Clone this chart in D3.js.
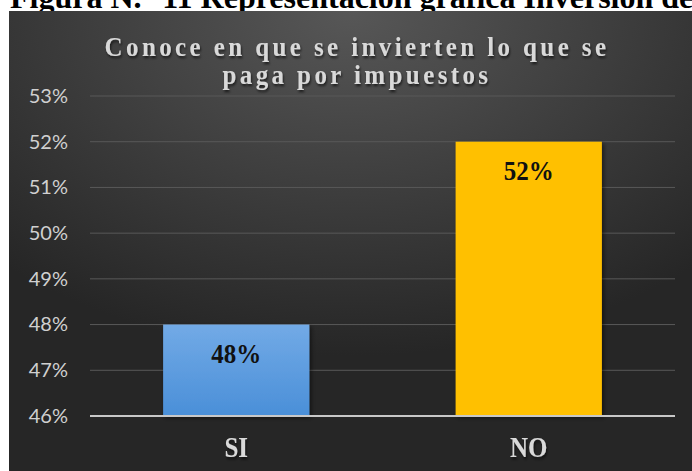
<!DOCTYPE html>
<html>
<head>
<meta charset="utf-8">
<script src="https://cdn.jsdelivr.net/npm/d3@7"></script>
<style>
  html, body { margin: 0; padding: 0; background: #fff; }
  svg { display: block; }
</style>
</head>
<body>
<div id="wrapper"></div>
<script>
// data
const categories = ["SI", "NO"]
const values = [0.48, 0.52]
const barColors = ["url(#blueGrad)", "#ffc000"]
const yTicks = [0.46, 0.47, 0.48, 0.49, 0.50, 0.51, 0.52, 0.53]
const titleLines = ["Conoce en que se invierten lo que se", "paga por impuestos"]
const pageHeading = "Figura N.° 11 Representación gráfica Inversión de"

const width = 692
const height = 471
const serif = "Liberation Serif, Times New Roman, serif"

// chart box sits under the cut-off heading
const box = { x: 9, y: 11 }
const plot = { left: 90, right: 675, top: 96, bottom: 416 }

const svg = d3.select("#wrapper")
  .append("svg")
    .attr("width", width)
    .attr("height", height)

const defs = svg.append("defs")

const bg = defs.append("radialGradient")
    .attr("id", "bgGrad")
    .attr("cx", "50%").attr("cy", "0%")
    .attr("r", "75%")
    .attr("fx", "50%").attr("fy", "0%")
bg.append("stop").attr("offset", "0%").attr("stop-color", "#575757")
bg.append("stop").attr("offset", "100%").attr("stop-color", "#262626")

const blue = defs.append("linearGradient")
    .attr("id", "blueGrad")
    .attr("x1", 0).attr("y1", 0).attr("x2", 0).attr("y2", 1)
blue.append("stop").attr("offset", "0%").attr("stop-color", "#72aae6")
blue.append("stop").attr("offset", "100%").attr("stop-color", "#4a8fd8")

const shadow = defs.append("filter").attr("id", "shadow")
    .attr("x", "-10%").attr("y", "-10%").attr("width", "130%").attr("height", "130%")
shadow.append("feDropShadow")
    .attr("dx", 2).attr("dy", 2).attr("stdDeviation", 2)
    .attr("flood-color", "#000").attr("flood-opacity", 0.5)

const textShadow = defs.append("filter").attr("id", "textShadow")
textShadow.append("feDropShadow")
    .attr("dx", 1).attr("dy", 2).attr("stdDeviation", 1.2)
    .attr("flood-color", "#000").attr("flood-opacity", 0.6)

// heading of the page, mostly hidden behind the chart
svg.append("text")
    .attr("x", 10)
    .attr("y", 8)
    .attr("font-family", serif)
    .attr("font-weight", "bold")
    .attr("font-size", 32)
    .attr("fill", "#000")
    .text(pageHeading)

svg.append("rect")
    .attr("x", box.x)
    .attr("y", box.y)
    .attr("width", width - box.x)
    .attr("height", height - box.y)
    .attr("fill", "url(#bgGrad)")

// title
svg.append("g")
  .selectAll("text")
  .data(titleLines)
  .join("text")
    .attr("transform", (d, i) => `translate(357,${56 + i * 28}) scale(1,1.1)`)
    .attr("text-anchor", "middle")
    .attr("font-family", serif)
    .attr("font-weight", "bold")
    .attr("font-size", 25)
    .attr("letter-spacing", 3.4)
    .attr("fill", "#d9d9d9")
    .attr("filter", "url(#textShadow)")
    .text(d => d)

const xScale = d3.scaleBand()
  .domain(categories)
  .range([plot.left, plot.right])
  .paddingInner(0.5)
  .paddingOuter(0.25)

const yScale = d3.scaleLinear()
  .domain([0.46, 0.53])
  .range([plot.bottom, plot.top])

// gridlines
svg.append("g")
  .selectAll("line")
  .data(yTicks.slice(1))
  .join("line")
    .attr("x1", plot.left)
    .attr("x2", plot.right)
    .attr("y1", d => yScale(d))
    .attr("y2", d => yScale(d))
    .attr("stroke", "#595959")
    .attr("stroke-width", 1)

// y axis labels
const yAxis = svg.append("g")
    .attr("transform", `translate(${plot.left},0)`)
    .call(d3.axisLeft(yScale)
      .tickValues(yTicks)
      .tickFormat(d3.format(".0%"))
      .tickSize(0)
      .tickPadding(22))
yAxis.select(".domain").remove()
yAxis.selectAll("text")
    .attr("font-family", "Lato, Open Sans, sans-serif")
    .attr("font-size", 20)
    .attr("fill", "#d0d0d0")

// bars
svg.append("g")
  .selectAll("rect")
  .data(values)
  .join("rect")
    .attr("x", (d, i) => xScale(categories[i]))
    .attr("y", d => yScale(d))
    .attr("width", xScale.bandwidth())
    .attr("height", d => yScale(0.46) - yScale(d))
    .attr("fill", (d, i) => barColors[i])
    .attr("filter", "url(#shadow)")

// value labels
svg.append("g")
  .selectAll("text")
  .data(values)
  .join("text")
    .attr("transform", (d, i) =>
      `translate(${xScale(categories[i]) + xScale.bandwidth() / 2},${yScale(d) + 38}) scale(1,1.07)`)
    .attr("text-anchor", "middle")
    .attr("font-family", serif)
    .attr("font-weight", "bold")
    .attr("font-size", 25)
    .attr("fill", "#111")
    .text(d => d3.format(".0%")(d))

// baseline
svg.append("line")
    .attr("x1", plot.left)
    .attr("x2", plot.right)
    .attr("y1", yScale(0.46))
    .attr("y2", yScale(0.46))
    .attr("stroke", "#c8c8c8")
    .attr("stroke-width", 2)

// category labels
svg.append("g")
  .selectAll("text")
  .data(categories)
  .join("text")
    .attr("transform", d =>
      `translate(${xScale(d) + xScale.bandwidth() / 2},457) scale(1,1.15)`)
    .attr("text-anchor", "middle")
    .attr("font-family", serif)
    .attr("font-weight", "bold")
    .attr("font-size", 25)
    .attr("fill", "#d9d9d9")
    .attr("filter", "url(#textShadow)")
    .text(d => d)
</script>
</body>
</html>
